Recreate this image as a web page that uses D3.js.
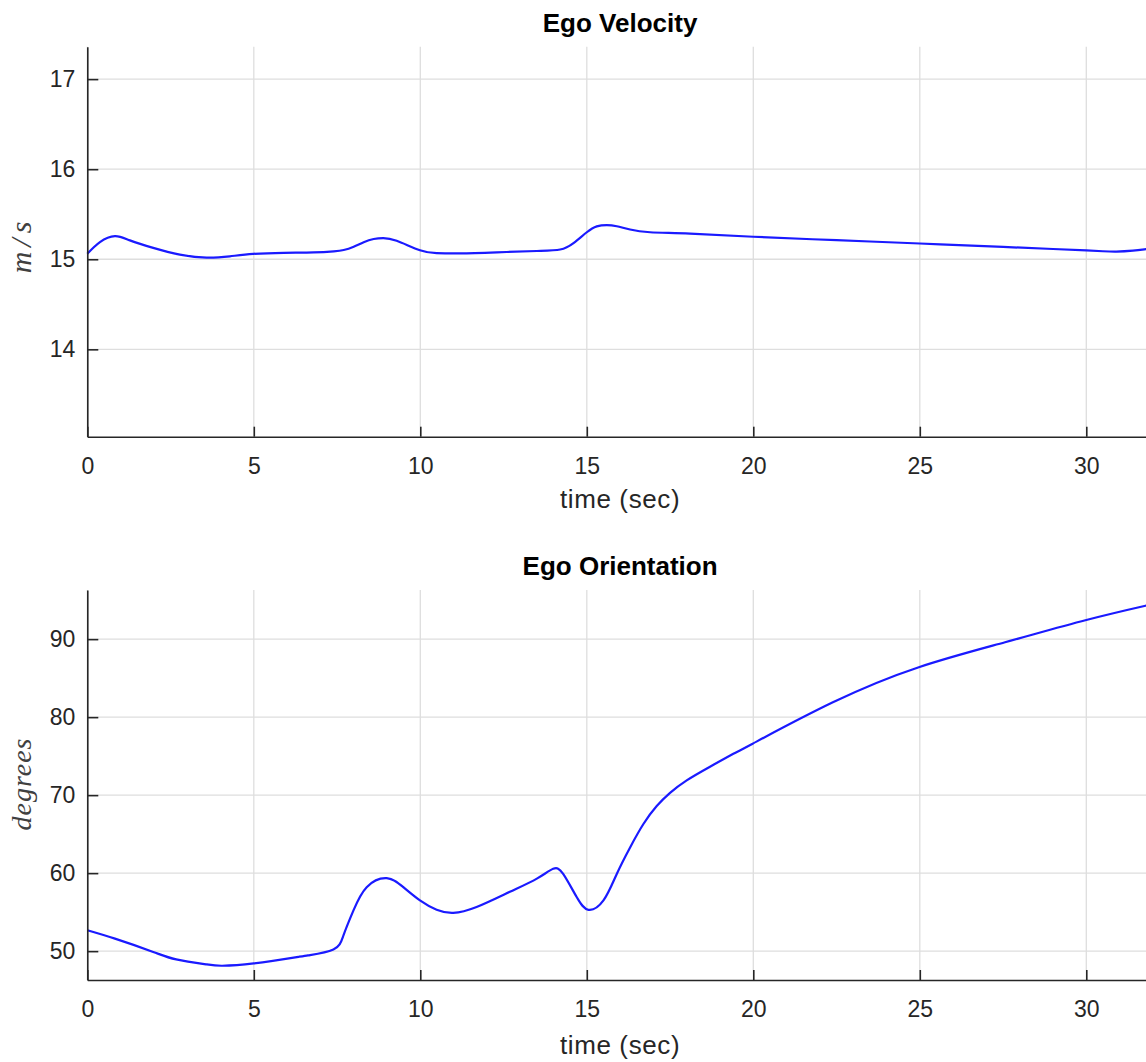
<!DOCTYPE html>
<html>
<head>
<meta charset="utf-8">
<script src="https://cdn.jsdelivr.net/npm/d3@7"></script>
<style>
  html, body { margin: 0; padding: 0; background: #fff; }
  svg { display: block; }
</style>
</head>
<body>
<svg id="chart" width="1146" height="1062"></svg>
<script>
// ---- data ----
const velTime = [0, 0.38, 0.83, 1.28, 1.98, 2.78, 3.58, 4.28, 4.98, 5.9, 6.8, 7.4, 7.7, 8.0, 8.3, 8.6, 8.89, 9.29, 9.99, 10.49, 11.2, 12.3, 13.5, 14.2, 14.6, 15.0, 15.3, 15.6, 15.9, 16.3, 16.9, 18.1, 20.0, 22.5, 25.0, 27.5, 29.0, 30.0, 30.5, 30.9, 31.4, 31.8, 32.0];
const velVals = [15.06, 15.19, 15.256, 15.21, 15.126, 15.052, 15.018, 15.033, 15.06, 15.072, 15.076, 15.088, 15.103, 15.14, 15.19, 15.225, 15.235, 15.205, 15.1, 15.068, 15.065, 15.077, 15.092, 15.108, 15.18, 15.30, 15.365, 15.38, 15.367, 15.33, 15.30, 15.285, 15.25, 15.212, 15.175, 15.137, 15.114, 15.098, 15.089, 15.085, 15.095, 15.112, 15.12];

const oriTime = [0, 0.83, 1.98, 2.67, 3.58, 4.05, 5.0, 6.34, 6.69, 7.39, 7.69, 7.99, 8.39, 8.99, 9.49, 9.99, 10.49, 10.99, 11.69, 12.69, 13.5, 13.99, 14.29, 14.7, 15.05, 15.5, 15.9, 16.3, 16.7, 17.1, 17.5, 18.0, 18.7, 19.4, 19.98, 22.39, 24.97, 27.56, 30.0, 31.8, 32.0];
const oriVals = [52.68, 51.6, 49.9, 48.94, 48.3, 48.13, 48.43, 49.27, 49.5, 50.2, 52.0, 55.2, 58.2, 59.35, 58.2, 56.5, 55.3, 54.9, 55.65, 57.6, 59.3, 60.55, 59.9, 56.9, 55.3, 56.5, 59.9, 63.3, 66.3, 68.6, 70.3, 71.9, 73.65, 75.3, 76.6, 81.9, 86.4, 89.6, 92.45, 94.3, 94.5];

const xTicks = [0, 5, 10, 15, 20, 25, 30];
const velTicks = [14, 15, 16, 17];
const oriTicks = [50, 60, 70, 80, 90];

const titles = ["Ego Velocity", "Ego Orientation"];
const xLabel = "time (sec)";
const yLabels = ["m/s", "degrees"];

// ---- layout ----
const svg = d3.select("#chart");
const axisColor = "#262626";
const gridColor = "#dedede";
const left = 87.3, right = 1152.9;

const panels = [
  { top: 46.7, bottom: 436.7, domain: [13.03, 17.36], ticks: velTicks, t: velTime, v: velVals,
    title: titles[0], ylab: yLabels[0], ylabX: 31, ylabY: 245, ylabSize: 30, ylabSpacing: 5, xlabDy: 71.5 },
  { top: 590, bottom: 980, domain: [46.3, 96.3], ticks: oriTicks, t: oriTime, v: oriVals,
    title: titles[1], ylab: yLabels[1], ylabX: 31, ylabY: 784, ylabSize: 28, ylabSpacing: 1, xlabDy: 73.5 }
];

panels.forEach(p => {
  const x = d3.scaleLinear().domain([0, 32]).range([left, right]);
  const y = d3.scaleLinear().domain(p.domain).range([p.bottom, p.top]);
  const g = svg.append("g");

  // grid
  g.selectAll(".vg").data(xTicks).join("line")
    .attr("x1", d => x(d)).attr("x2", d => x(d))
    .attr("y1", p.top).attr("y2", p.bottom)
    .attr("stroke", gridColor).attr("stroke-width", 1.3);
  g.selectAll(".hg").data(p.ticks).join("line")
    .attr("x1", left).attr("x2", right)
    .attr("y1", d => y(d)).attr("y2", d => y(d))
    .attr("stroke", gridColor).attr("stroke-width", 1.3);

  // data line
  const line = d3.line()
    .x((d, i) => x(p.t[i]))
    .y(d => y(d))
    .curve(d3.curveNatural);
  g.append("path").datum(p.v)
    .attr("d", line)
    .attr("fill", "none")
    .attr("stroke", "#1a1aff")
    .attr("stroke-width", 2.2);

  // axes (ticks inward)
  const xAxis = d3.axisBottom(x).tickValues(xTicks).tickSizeInner(-10).tickSizeOuter(0).tickPadding(20).tickFormat(d3.format("d"));
  const xg = g.append("g").attr("transform", `translate(0,${p.bottom})`).call(xAxis);
  const yAxis = d3.axisLeft(y).tickValues(p.ticks).tickSizeInner(-11).tickSizeOuter(0).tickPadding(12).tickFormat(d3.format("d"));
  const yg = g.append("g").attr("transform", `translate(${left},0)`).call(yAxis);

  [xg, yg].forEach(ax => {
    ax.select(".domain").attr("stroke", axisColor).attr("stroke-width", 1.6);
    ax.selectAll(".tick line").attr("stroke", axisColor).attr("stroke-width", 1.6);
    ax.selectAll(".tick text")
      .attr("fill", axisColor)
      .style("font-family", "'Liberation Sans', Arial, sans-serif")
      .style("font-size", "23px");
  });
  xg.selectAll(".tick text").attr("dy", null).attr("y", 37.3).attr("dominant-baseline", "auto");

  // title
  svg.append("text")
    .attr("x", (left + right) / 2).attr("y", p.top - 15)
    .attr("text-anchor", "middle")
    .attr("fill", "#000")
    .style("font-family", "'Liberation Sans', Arial, sans-serif")
    .style("font-weight", "bold")
    .style("font-size", "26px")
    .text(p.title);

  // x label
  svg.append("text")
    .attr("x", (left + right) / 2).attr("y", p.bottom + p.xlabDy)
    .attr("text-anchor", "middle")
    .attr("fill", axisColor)
    .style("font-family", "'Liberation Sans', Arial, sans-serif")
    .style("font-size", "26px")
    .style("letter-spacing", "0.6px")
    .text(xLabel);

  // y label (math italic)
  svg.append("text")
    .attr("transform", `translate(${p.ylabX},${p.ylabY}) rotate(-90)`)
    .attr("text-anchor", "middle")
    .attr("fill", "#404040")
    .style("font-family", "'Liberation Serif', 'Times New Roman', serif")
    .style("font-style", "italic")
    .style("font-size", p.ylabSize + "px")
    .style("letter-spacing", p.ylabSpacing + "px")
    .text(p.ylab);
});
</script>
</body>
</html>
